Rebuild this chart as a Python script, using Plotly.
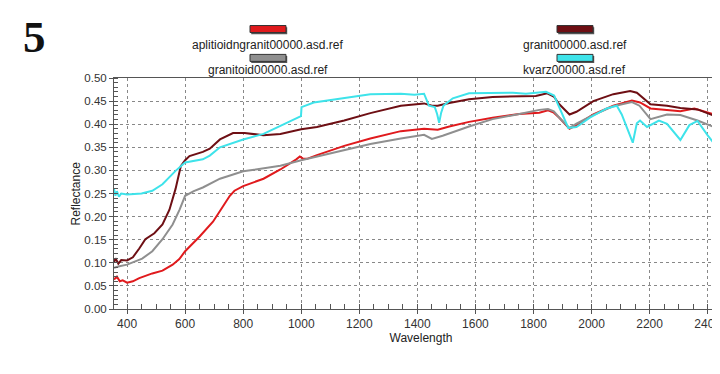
import plotly.graph_objects as go

# ---- data ----
names = ["aplitioidngranit00000.asd.ref", "granit00000.asd.ref",
         "granitoid00000.asd.ref", "kvarz00000.asd.ref"]

aplit_wl = [355, 365, 375, 385, 400, 420, 442, 487, 522, 557, 580, 600, 650, 696, 720, 737, 754, 770, 800,
            870, 928, 983, 995, 1005, 1020, 1054, 1148, 1238, 1343, 1423, 1470, 1510, 1578, 1659, 1751,
            1820, 1850, 1870, 1889, 1924, 1948, 2006, 2075, 2139, 2167, 2203, 2260, 2306, 2354, 2423, 2470]
aplit_r = [0.064, 0.070, 0.060, 0.062, 0.057, 0.060, 0.067, 0.077, 0.083, 0.096, 0.108, 0.125, 0.157, 0.189,
           0.212, 0.228, 0.245, 0.256, 0.266, 0.282, 0.302, 0.324, 0.330, 0.326, 0.325, 0.333, 0.353, 0.369,
           0.385, 0.390, 0.388, 0.395, 0.405, 0.414, 0.422, 0.425, 0.430, 0.425, 0.414, 0.390, 0.398, 0.421,
           0.440, 0.451, 0.447, 0.434, 0.430, 0.428, 0.434, 0.421, 0.405]

granit_wl = [355, 360, 370, 380, 400, 420, 442, 463, 494, 522, 546, 567, 585, 600, 615, 661, 685, 720, 765,
             805, 870, 928, 1000, 1054, 1148, 1238, 1343, 1423, 1450, 1470, 1510, 1578, 1659, 1751, 1808,
             1847, 1870, 1889, 1924, 1948, 2006, 2075, 2133, 2156, 2203, 2260, 2306, 2365, 2423, 2470]
granit_r = [0.100, 0.110, 0.098, 0.106, 0.105, 0.112, 0.131, 0.151, 0.164, 0.183, 0.215, 0.260, 0.309, 0.322,
            0.331, 0.340, 0.347, 0.367, 0.381, 0.381, 0.376, 0.379, 0.389, 0.394, 0.408, 0.424, 0.440, 0.445,
            0.440, 0.440, 0.446, 0.454, 0.459, 0.461, 0.461, 0.467, 0.460, 0.443, 0.421, 0.427, 0.450, 0.465,
            0.472, 0.468, 0.443, 0.440, 0.435, 0.432, 0.418, 0.398]

granitoid_wl = [355, 370, 400, 452, 487, 522, 557, 581, 600, 630, 661, 720, 800, 870, 928, 1000, 1054, 1148,
                1238, 1343, 1423, 1450, 1487, 1578, 1659, 1751, 1820, 1850, 1870, 1889, 1924, 1948, 2006,
                2075, 2139, 2165, 2203, 2260, 2306, 2365, 2423, 2470]
granitoid_r = [0.089, 0.092, 0.096, 0.109, 0.125, 0.151, 0.183, 0.215, 0.245, 0.255, 0.263, 0.282, 0.298,
               0.304, 0.310, 0.322, 0.330, 0.344, 0.357, 0.369, 0.377, 0.368, 0.375, 0.395, 0.411, 0.422,
               0.431, 0.433, 0.428, 0.414, 0.392, 0.401, 0.420, 0.439, 0.448, 0.440, 0.411, 0.421, 0.420,
               0.408, 0.394, 0.382]

kvarz_wl = [355, 360, 365, 372, 380, 400, 450, 487, 522, 567, 600, 661, 685, 720, 800, 870, 999, 1001, 1043,
            1148, 1238, 1343, 1390, 1423, 1440, 1460, 1468, 1475, 1482, 1490, 1522, 1578, 1659, 1729, 1774,
            1820, 1843, 1871, 1896, 1920, 1948, 1994, 2052, 2087, 2104, 2128, 2142, 2156, 2167, 2191, 2232,
            2260, 2306, 2337, 2365, 2400, 2435, 2470]
kvarz_r = [0.260, 0.245, 0.255, 0.243, 0.250, 0.248, 0.250, 0.256, 0.270, 0.299, 0.317, 0.324, 0.332, 0.350,
           0.367, 0.379, 0.4175, 0.437, 0.447, 0.456, 0.465, 0.466, 0.464, 0.466, 0.440, 0.437, 0.422, 0.403,
           0.425, 0.440, 0.456, 0.467, 0.468, 0.468, 0.466, 0.469, 0.470, 0.462, 0.427, 0.392, 0.394, 0.414,
           0.434, 0.440, 0.421, 0.385, 0.360, 0.402, 0.408, 0.394, 0.408, 0.401, 0.366, 0.398, 0.407, 0.376,
           0.348, 0.320]

x_ticks = [400, 600, 800, 1000, 1200, 1400, 1600, 1800, 2000, 2200, 2400]
y_ticks = [0.00, 0.05, 0.10, 0.15, 0.20, 0.25, 0.30, 0.35, 0.40, 0.45, 0.50]

# ---- styles ----
colors = ["#e01a1d", "#6e0f14", "#8f8f8f", "#3ee3ea"]
series = [(aplit_wl, aplit_r), (granit_wl, granit_r), (granitoid_wl, granitoid_r), (kvarz_wl, kvarz_r)]

fig = go.Figure()
for (wl, r), name, c in zip(series, names, colors):
    fig.add_trace(go.Scatter(x=wl, y=r, mode="lines", name=name,
                             line=dict(color=c, width=2), showlegend=False))

font = "Liberation Sans, Arial, sans-serif"

# custom legend: swatch above text, two columns
leg_pos = [(0.2508, 1.212, 1.143), (0.7508, 1.212, 1.143),
           (0.2508, 1.087, 1.035), (0.7508, 1.087, 1.035)]
sw_w, sw_h = 0.0586, 0.0303
for (px, ry, ty), name, c in zip(leg_pos, names, colors):
    fig.add_shape(type="rect", xref="paper", yref="paper",
                  x0=px - sw_w / 2 + 0.002, x1=px + sw_w / 2 + 0.002,
                  y0=ry - sw_h / 2 - 0.007, y1=ry + sw_h / 2 - 0.007,
                  fillcolor="#555", line=dict(width=0), layer="above")
    fig.add_shape(type="rect", xref="paper", yref="paper",
                  x0=px - sw_w / 2, x1=px + sw_w / 2,
                  y0=ry - sw_h / 2, y1=ry + sw_h / 2,
                  fillcolor=c, line=dict(color="#333", width=1), layer="above")
    fig.add_annotation(x=px, y=ty, xref="paper", yref="paper", text=name,
                       showarrow=False, xanchor="center", yanchor="middle",
                       font=dict(family=font, size=12, color="#222"))

# figure number
fig.add_annotation(x=-0.1515, y=1.177, xref="paper", yref="paper", text="<b>5</b>",
                   showarrow=False, xanchor="left", yanchor="middle",
                   font=dict(family="Liberation Serif, Times New Roman, serif", size=45, color="#111"))

# y-axis title
fig.add_annotation(x=-0.0635, y=0.5, xref="paper", yref="paper", text="Reflectance",
                   showarrow=False, textangle=-90, xanchor="center", yanchor="middle",
                   font=dict(family=font, size=12, color="#222"))

fig.update_layout(
    width=720, height=374,
    margin=dict(l=106, r=0, t=70, b=73),
    paper_bgcolor="white", plot_bgcolor="white",
    font=dict(family=font, size=12, color="#333"),
)
fig.update_xaxes(
    range=[355, 2470], tickvals=x_ticks, ticktext=[str(v) for v in x_ticks],
    showline=True, linecolor="#555", linewidth=1, mirror=True,
    ticks="outside", ticklen=4, tickcolor="#555",
    showgrid=True, gridcolor="#888", griddash="dot", gridwidth=1,
    minor=dict(dtick=50, tick0=0, ticks="inside", ticklen=5, tickcolor="#555", showgrid=False),
    title=dict(text="Wavelength", font=dict(family=font, size=12, color="#222"), standoff=2),
    tickfont=dict(family=font, size=12, color="#333"), zeroline=False,
)
fig.update_yaxes(
    range=[0, 0.5], tickvals=y_ticks, ticktext=[f"{v:.2f}" for v in y_ticks],
    showline=True, linecolor="#555", linewidth=1,
    ticks="outside", ticklen=4, tickcolor="#555",
    showgrid=True, gridcolor="#888", griddash="dot", gridwidth=1,
    minor=dict(dtick=0.01, tick0=0, ticks="inside", ticklen=4, tickcolor="#555", showgrid=False),
    tickfont=dict(family=font, size=11.5, color="#333"), zeroline=False,
)

fig.write_html("out.html")
